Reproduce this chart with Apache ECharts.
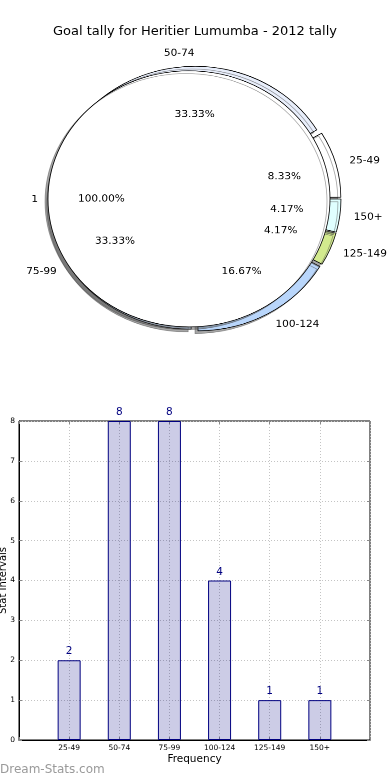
<!DOCTYPE html>
<html>
<head>
<meta charset="utf-8">
<script src="https://cdn.jsdelivr.net/npm/echarts@6/dist/echarts.min.js"></script>
<style>
html,body{margin:0;padding:0;background:#fff;}
#main{position:absolute;left:0;top:0;width:390px;height:780px;}
#pie{position:absolute;left:0;top:0;width:390px;height:400px;transform:scaleY(0.908);transform-origin:0 0;pointer-events:none;}
</style>
</head>
<body>
<div id="main"></div>
<div id="pie"></div>
<script>
const titleText = 'Goal tally for Heritier Lumumba - 2012 tally';
const categories = ['25-49', '50-74', '75-99', '100-124', '125-149', '150+'];
const counts = [2, 8, 8, 4, 1, 1];
const sliceColors = ['#ffffff', '#e8eefb', '#c6daf5', '#b9d6fb', '#d3ea8e', '#e0ffff'];
const innerNames = ['1'];
const innerValues = [1];
const yTicks = [0, 1, 2, 3, 4, 5, 6, 7, 8];

const FONT = 'DejaVu Sans';
const total = counts.reduce((a, b) => a + b, 0);
const innerTotal = innerValues.reduce((a, b) => a + b, 0);

// ---------- main chart (title + bars) ----------
const main = echarts.init(document.getElementById('main'), null, {width: 390, height: 780});
const axisCommonX = {type: 'value', min: -1, max: 6, interval: 1};
const tickStyle = {show: true, inside: true, length: 3, lineStyle: {color: '#888'}};
main.setOption({
  animation: false,
  backgroundColor: '#fff',
  title: {
    text: titleText, left: 'center', top: 20,
    textStyle: {fontFamily: FONT, fontSize: 13, fontWeight: 'normal', color: '#000'}
  },
  graphic: [{
    type: 'text', left: 0, top: 764,
    style: {text: 'Dream-Stats.com', fill: '#9a9a9a', font: '12px "DejaVu Sans"'}
  }],
  grid: {left: 19, right: 20, top: 421, bottom: 40, containLabel: false, outerBoundsMode: 'none',
         show: true, borderColor: '#000', borderWidth: 1, backgroundColor: 'transparent'},
  xAxis: [Object.assign({}, axisCommonX, {
    position: 'bottom',
    name: 'Frequency', nameLocation: 'middle', nameGap: 14, nameMoveOverlap: false,
    nameTextStyle: {fontFamily: FONT, fontSize: 10.5, color: '#000'},
    axisLine: {show: true, onZero: false, lineStyle: {color: '#000', width: 1}},
    axisTick: tickStyle,
    axisLabel: {fontFamily: FONT, fontSize: 7.5, color: '#000', margin: 4,
      formatter: v => (categories[v] !== undefined ? categories[v] : '')},
    splitLine: {show: true, lineStyle: {type: [1, 2], color: '#c4c4c4', width: 1}}
  }), Object.assign({}, axisCommonX, {
    position: 'top',
    axisLine: {show: false, onZero: false}, axisLabel: {show: false}, splitLine: {show: false},
    axisTick: tickStyle
  })],
  yAxis: [{
    type: 'value', min: yTicks[0], max: yTicks[yTicks.length - 1], interval: 1,
    name: 'Stat Intervals', nameLocation: 'middle', nameGap: 11, nameMoveOverlap: false,
    nameTextStyle: {fontFamily: FONT, fontSize: 10, color: '#000'},
    axisLine: {show: true, onZero: false, lineStyle: {color: '#000', width: 1}},
    axisTick: tickStyle,
    axisLabel: {fontFamily: FONT, fontSize: 7.5, color: '#000', margin: 4},
    splitLine: {show: true, lineStyle: {type: [1, 2], color: '#c4c4c4', width: 1}}
  }, {
    type: 'value', min: yTicks[0], max: yTicks[yTicks.length - 1], interval: 1, position: 'right',
    axisLine: {show: false, onZero: false}, axisLabel: {show: false}, splitLine: {show: false},
    axisTick: tickStyle
  }],
  series: [{
    type: 'bar', xAxisIndex: 0, yAxisIndex: 0,
    barWidth: 23,
    data: counts.map((v, i) => [i, v]),
    itemStyle: {color: 'rgba(0,0,128,0.2)', borderColor: '#000080', borderWidth: 1},
    label: {show: true, position: 'top', distance: 3, color: '#000080', fontFamily: FONT, fontSize: 10.5,
      formatter: p => String(p.value[1])},
    silent: true
  }]
});

// ---------- pie (drawn in a vertically squeezed layer, like the elliptical original) ----------
const pie = echarts.init(document.getElementById('pie'), null, {width: 390, height: 400, devicePixelRatio: 2});
const CX = 195, CY = 219, R = 141;
const shadow = {shadowColor: 'rgba(77,77,77,0.5)', shadowOffsetX: -3, shadowOffsetY: 3, shadowBlur: 0};
const nameLabel = {show: true, position: 'outside', formatter: '{b}', fontFamily: FONT, fontSize: 10.5, color: '#000',
  distanceToLabelLine: 0};
const pctLabel = (tot) => ({show: true, position: 'inside', fontFamily: FONT, fontSize: 10.5, color: '#000',
  formatter: p => (p.value / tot * 100).toFixed(2) + '%'});
const pieBase = {
  type: 'pie', center: [CX, CY], startAngle: 0.2, clockwise: false,
  selectedMode: 'multiple', avoidLabelOverlap: false, silent: true,
  emphasis: {disabled: true}, animation: false
};
pie.setOption({
  animation: false,
  series: [
    Object.assign({}, pieBase, {
      z: 2, radius: [0, R], selectedOffset: 5,
      itemStyle: Object.assign({borderColor: '#000', borderWidth: 0.8}, shadow),
      select: {itemStyle: {borderColor: '#000', borderWidth: 0.8}},
      label: nameLabel,
      labelLine: {show: false, length: 14, length2: 0},
      data: categories.map((c, i) => ({name: c, value: counts[i], selected: true, itemStyle: {color: sliceColors[i]}}))
    }),
    Object.assign({}, pieBase, {
      z: 3, radius: [0, R], selectedOffset: 6,
      itemStyle: Object.assign({color: '#fff', borderColor: '#000', borderWidth: 0.8}, shadow),
      select: {itemStyle: {borderColor: '#000', borderWidth: 0.8}},
      label: nameLabel,
      labelLine: {show: false, length: 10, length2: 0},
      data: innerNames.map((n, i) => ({name: n, value: innerValues[i], selected: true}))
    }),
    Object.assign({}, pieBase, {
      z: 4, radius: [R * 0.2, R], selectedOffset: 5,
      itemStyle: {color: 'transparent', borderWidth: 0},
      select: {itemStyle: {color: 'transparent', borderWidth: 0}},
      label: pctLabel(total), labelLine: {show: false},
      data: categories.map((c, i) => ({name: c, value: counts[i], selected: true}))
    }),
    Object.assign({}, pieBase, {
      z: 4, radius: [R * 0.2, R], selectedOffset: 6,
      itemStyle: {color: 'transparent', borderWidth: 0},
      select: {itemStyle: {color: 'transparent', borderWidth: 0}},
      label: pctLabel(innerTotal), labelLine: {show: false},
      data: innerNames.map((n, i) => ({name: n, value: innerValues[i], selected: true}))
    })
  ]
});
</script>
</body>
</html>
